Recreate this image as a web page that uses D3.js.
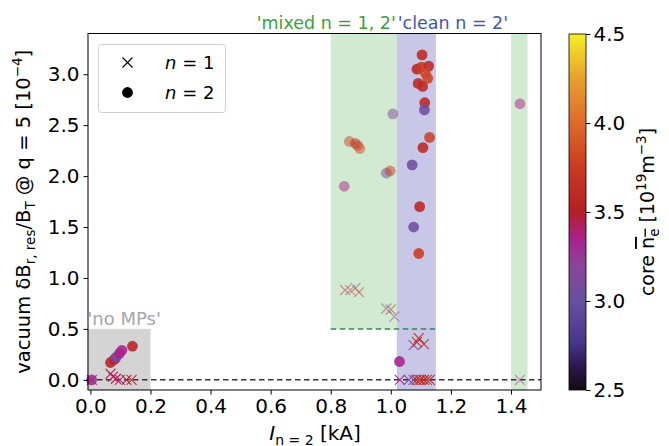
<!DOCTYPE html>
<html><head><meta charset="utf-8">
<script src="https://cdn.jsdelivr.net/npm/d3@7"></script>
<style>body{margin:0;background:#fff} svg{display:block} text{font-family:"DejaVu Sans",sans-serif}</style>
</head><body><svg id="c" width="669" height="446"></svg>
<script>
// ---- data ----
const n1X  = [0.005,0.067,0.075,0.085,0.098,0.12,0.137, 0.848,0.865,0.882,0.894,0.985,1.0,1.012, 1.093,1.076,1.087,1.11, 1.03,1.06,1.076,1.085,1.095,1.10,1.11,1.12,1.13, 1.43];
const n1Y  = [0.0,0.06,0.03,0.01,0.0,0.0,0.0, 0.88,0.88,0.90,0.86,0.70,0.69,0.62, 0.41,0.34,0.37,0.35, 0.0,0.0,0.0,0.0,0.0,0.0,0.0,0.0,0.0, 0.0];
const n1Ne = [3.3,3.55,3.35,3.5,3.35,3.5,3.55, 3.4,3.75,3.1,3.8,3.1,3.75,3.05, 3.55,3.05,3.6,3.6, 3.35,3.05,3.1,3.55,3.6,3.75,3.55,3.6,3.55, 3.35];

const n2X  = [0.004,0.067,0.08,0.085,0.097,0.105,0.14, 1.007,0.862,0.882,0.89,0.897,0.845,0.985,0.998, 1.104,1.087,1.102,1.126,1.115,1.123,1.091,1.106,1.113,1.112,1.129,1.107,1.071,1.096,1.076,1.093,1.029, 1.43];
const n2Y  = [0.0,0.17,0.20,0.22,0.26,0.29,0.33, 2.61,2.34,2.32,2.30,2.27,1.90,2.03,2.05, 3.19,3.05,3.07,3.08,3.01,2.96,2.91,2.88,2.72,2.65,2.38,2.28,2.11,1.70,1.50,1.24,0.18, 2.71];
const n2Ne = [3.3,3.55,3.5,3.1,3.35,3.35,3.55, 3.15,3.8,3.6,3.7,3.85,3.35,3.1,3.75, 3.6,3.55,3.75,3.6,3.8,3.8,3.6,3.6,3.55,3.05,3.8,3.6,3.05,3.55,3.05,3.75,3.35, 3.35];

const xTicks = [0,0.2,0.4,0.6,0.8,1.0,1.2,1.4];
const yTicks = [0,0.5,1.0,1.5,2.0,2.5,3.0];
const cTicks = [2.5,3.0,3.5,4.0,4.5];

const noMPsSpan = [-0.01,0.2,-0.1,0.5];
const mixedSpans = [[0.8,1.02,0.5],[1.40,1.455,-0.1]];
const cleanSpan = [1.02,1.15];
const thresholdLine = [0.8,1.15,0.5];

const cmapStops  = [2.5,2.62,2.78,3.0,3.2,3.35,3.5,3.75,4.0,4.25,4.5];
const cmapColors = ["#120a10","#2a1648","#4a3890","#6551a0","#8a4598","#a8228c","#b41f26","#c93a22","#df6a2a","#e9a02e","#f5f025"];

// ---- layout ----
const svg = d3.select("#c");
const L=88, R=541, T=33.5, B=390;
const x = d3.scaleLinear().domain([-0.008,1.5]).range([L,R]);
const y = d3.scaleLinear().domain([-0.1,3.4]).range([B,T]);
const cmap = d3.scaleLinear().domain(cmapStops).range(cmapColors).clamp(true);

// spans
svg.append("rect").attr("x",x(noMPsSpan[0])).attr("y",y(noMPsSpan[3]))
  .attr("width",x(noMPsSpan[1])-x(noMPsSpan[0])).attr("height",y(noMPsSpan[2])-y(noMPsSpan[3]))
  .attr("fill","#d4d4d4");
mixedSpans.forEach(s=>{
  svg.append("rect").attr("x",x(s[0])).attr("y",T).attr("width",x(s[1])-x(s[0]))
    .attr("height",y(s[2])-T).attr("fill","#2ca02c").attr("fill-opacity",0.22);
});
svg.append("rect").attr("x",x(cleanSpan[0])).attr("y",T).attr("width",x(cleanSpan[1])-x(cleanSpan[0]))
  .attr("height",B-T).attr("fill","#4b45b0").attr("fill-opacity",0.3);

// lines
svg.append("line").attr("x1",L).attr("x2",R).attr("y1",y(0)).attr("y2",y(0))
  .attr("stroke","#333").attr("stroke-width",1.5).attr("stroke-dasharray","5.5,3.5");
svg.append("line").attr("x1",x(thresholdLine[0])).attr("x2",x(thresholdLine[1]))
  .attr("y1",y(thresholdLine[2])).attr("y2",y(thresholdLine[2]))
  .attr("stroke","#2e8b57").attr("stroke-width",1.5).attr("stroke-dasharray","5.5,3.5");

function alphaFor(xv){
  return mixedSpans.some(s=>xv>=s[0]&&xv<=s[1]) ? 0.5 : 0.88;
}

// points
const g = svg.append("g");
n1X.forEach((xv,i)=>{
  g.append("path").attr("transform",`translate(${x(xv)},${y(n1Y[i])})`)
   .attr("d","M-5,-5L5,5M-5,5L5,-5").attr("stroke",cmap(n1Ne[i]))
   .attr("stroke-width",1.2).attr("fill","none").attr("stroke-opacity",alphaFor(xv));
});
n2X.forEach((xv,i)=>{
  g.append("circle").attr("cx",x(xv)).attr("cy",y(n2Y[i])).attr("r",5.4)
   .attr("fill",cmap(n2Ne[i])).attr("fill-opacity",alphaFor(xv));
});

// frame
svg.append("rect").attr("x",L).attr("y",T).attr("width",R-L).attr("height",B-T)
  .attr("fill","none").attr("stroke","#000").attr("stroke-width",1);

// axes
const xa = svg.append("g").attr("transform",`translate(0,${B})`)
  .call(d3.axisBottom(x).tickValues(xTicks).tickFormat(d3.format(".1f")).tickSize(4.5).tickPadding(4));
const ya = svg.append("g").attr("transform",`translate(${L},0)`)
  .call(d3.axisLeft(y).tickValues(yTicks).tickFormat(d3.format(".1f")).tickSize(4.5).tickPadding(4));
[xa,ya].forEach(a=>{
  a.select(".domain").remove();
  a.selectAll("text").attr("font-size",20).attr("font-family","DejaVu Sans").attr("fill","#000");
  a.selectAll("line").attr("stroke","#000");
});

// axis labels
const xl = svg.append("text").attr("x",315).attr("y",440).attr("text-anchor","middle").attr("font-size",20);
xl.append("tspan").attr("font-style","italic").text("I");
xl.append("tspan").attr("font-size",14).attr("dy",4.5).text("n = 2");
xl.append("tspan").attr("dy",-4.5).text(" [kA]");

const yl = svg.append("text").attr("transform",`translate(30,${(T+B)/2}) rotate(-90)`)
  .attr("text-anchor","middle").attr("font-size",19.5);
yl.append("tspan").text("vacuum δB");
yl.append("tspan").attr("font-size",13.5).attr("dy",4.5).text("r, res");
yl.append("tspan").attr("dy",-4.5).text("/B");
yl.append("tspan").attr("font-size",13.5).attr("dy",4.5).text("T");
yl.append("tspan").attr("dy",-4.5).text(" @ q = 5 [10");
yl.append("tspan").attr("font-size",13.5).attr("dy",-8).text("−4");
yl.append("tspan").attr("dy",8).text("]");

// region labels
svg.append("text").attr("x",x(-0.01)).attr("y",325).attr("font-size",18).attr("fill","#a6a6a6").text("'no MPs'");
svg.append("text").attr("x",x(1.02)-1).attr("y",29).attr("text-anchor","end").attr("font-size",17.5).attr("fill","#3ca03c").text("'mixed n = 1, 2'");
svg.append("text").attr("x",x(1.02)+1).attr("y",29).attr("font-size",17.5).attr("fill","#4455aa").text("'clean n = 2'");

// legend
const lg = svg.append("g");
lg.append("rect").attr("x",98.5).attr("y",44.5).attr("width",127).attr("height",68).attr("rx",3)
  .attr("fill","#fff").attr("fill-opacity",0.8).attr("stroke","#d0d0d0");
lg.append("path").attr("transform","translate(127.5,62.5)").attr("d","M-5,-5L5,5M-5,5L5,-5").attr("stroke","#000").attr("stroke-width",1.1);
lg.append("circle").attr("cx",127.5).attr("cy",92.5).attr("r",5.4).attr("fill","#000");
[["1",69],["2",99]].forEach(([v,yy])=>{
  const t = lg.append("text").attr("x",165).attr("y",yy).attr("font-size",18);
  t.append("tspan").attr("font-style","italic").text("n");
  t.append("tspan").text(" = "+v);
});

// colorbar
const CL=569, CR=586, CT=34, CB=390;
const cy = d3.scaleLinear().domain([2.5,4.5]).range([CB,CT]);
const defs = svg.append("defs");
const grad = defs.append("linearGradient").attr("id","cg").attr("x1",0).attr("y1",1).attr("x2",0).attr("y2",0);
cmapStops.forEach((s,i)=>grad.append("stop").attr("offset",(s-2.5)/2).attr("stop-color",cmapColors[i]));
svg.append("rect").attr("x",CL).attr("y",CT).attr("width",CR-CL).attr("height",CB-CT).attr("fill","url(#cg)");
svg.append("rect").attr("x",CL).attr("y",CT).attr("width",CR-CL).attr("height",CB-CT).attr("fill","none").attr("stroke","#000").attr("stroke-width",0.8);
const ca = svg.append("g").attr("transform",`translate(${CR},0)`)
  .call(d3.axisRight(cy).tickValues(cTicks).tickFormat(d3.format(".1f")).tickSize(4.5).tickPadding(3));
ca.select(".domain").remove();
ca.selectAll("text").attr("font-size",20).attr("font-family","DejaVu Sans").attr("fill","#000");
ca.selectAll("line").attr("stroke","#000");

const cl = svg.append("text").attr("transform",`translate(654,${(CT+CB)/2}) rotate(-90)`)
  .attr("text-anchor","middle").attr("font-size",19);
cl.append("tspan").text("core ");
cl.append("tspan").attr("text-decoration","overline").text("n");
cl.append("tspan").attr("font-size",13.5).attr("dy",4.5).attr("text-decoration","overline").text("e");
cl.append("tspan").attr("dy",-4.5).text(" [10");
cl.append("tspan").attr("font-size",13.5).attr("dy",-8).text("19");
cl.append("tspan").attr("dy",8).text("m");
cl.append("tspan").attr("font-size",13.5).attr("dy",-8).text("−3");
cl.append("tspan").attr("dy",8).text("]");
</script></body></html>
